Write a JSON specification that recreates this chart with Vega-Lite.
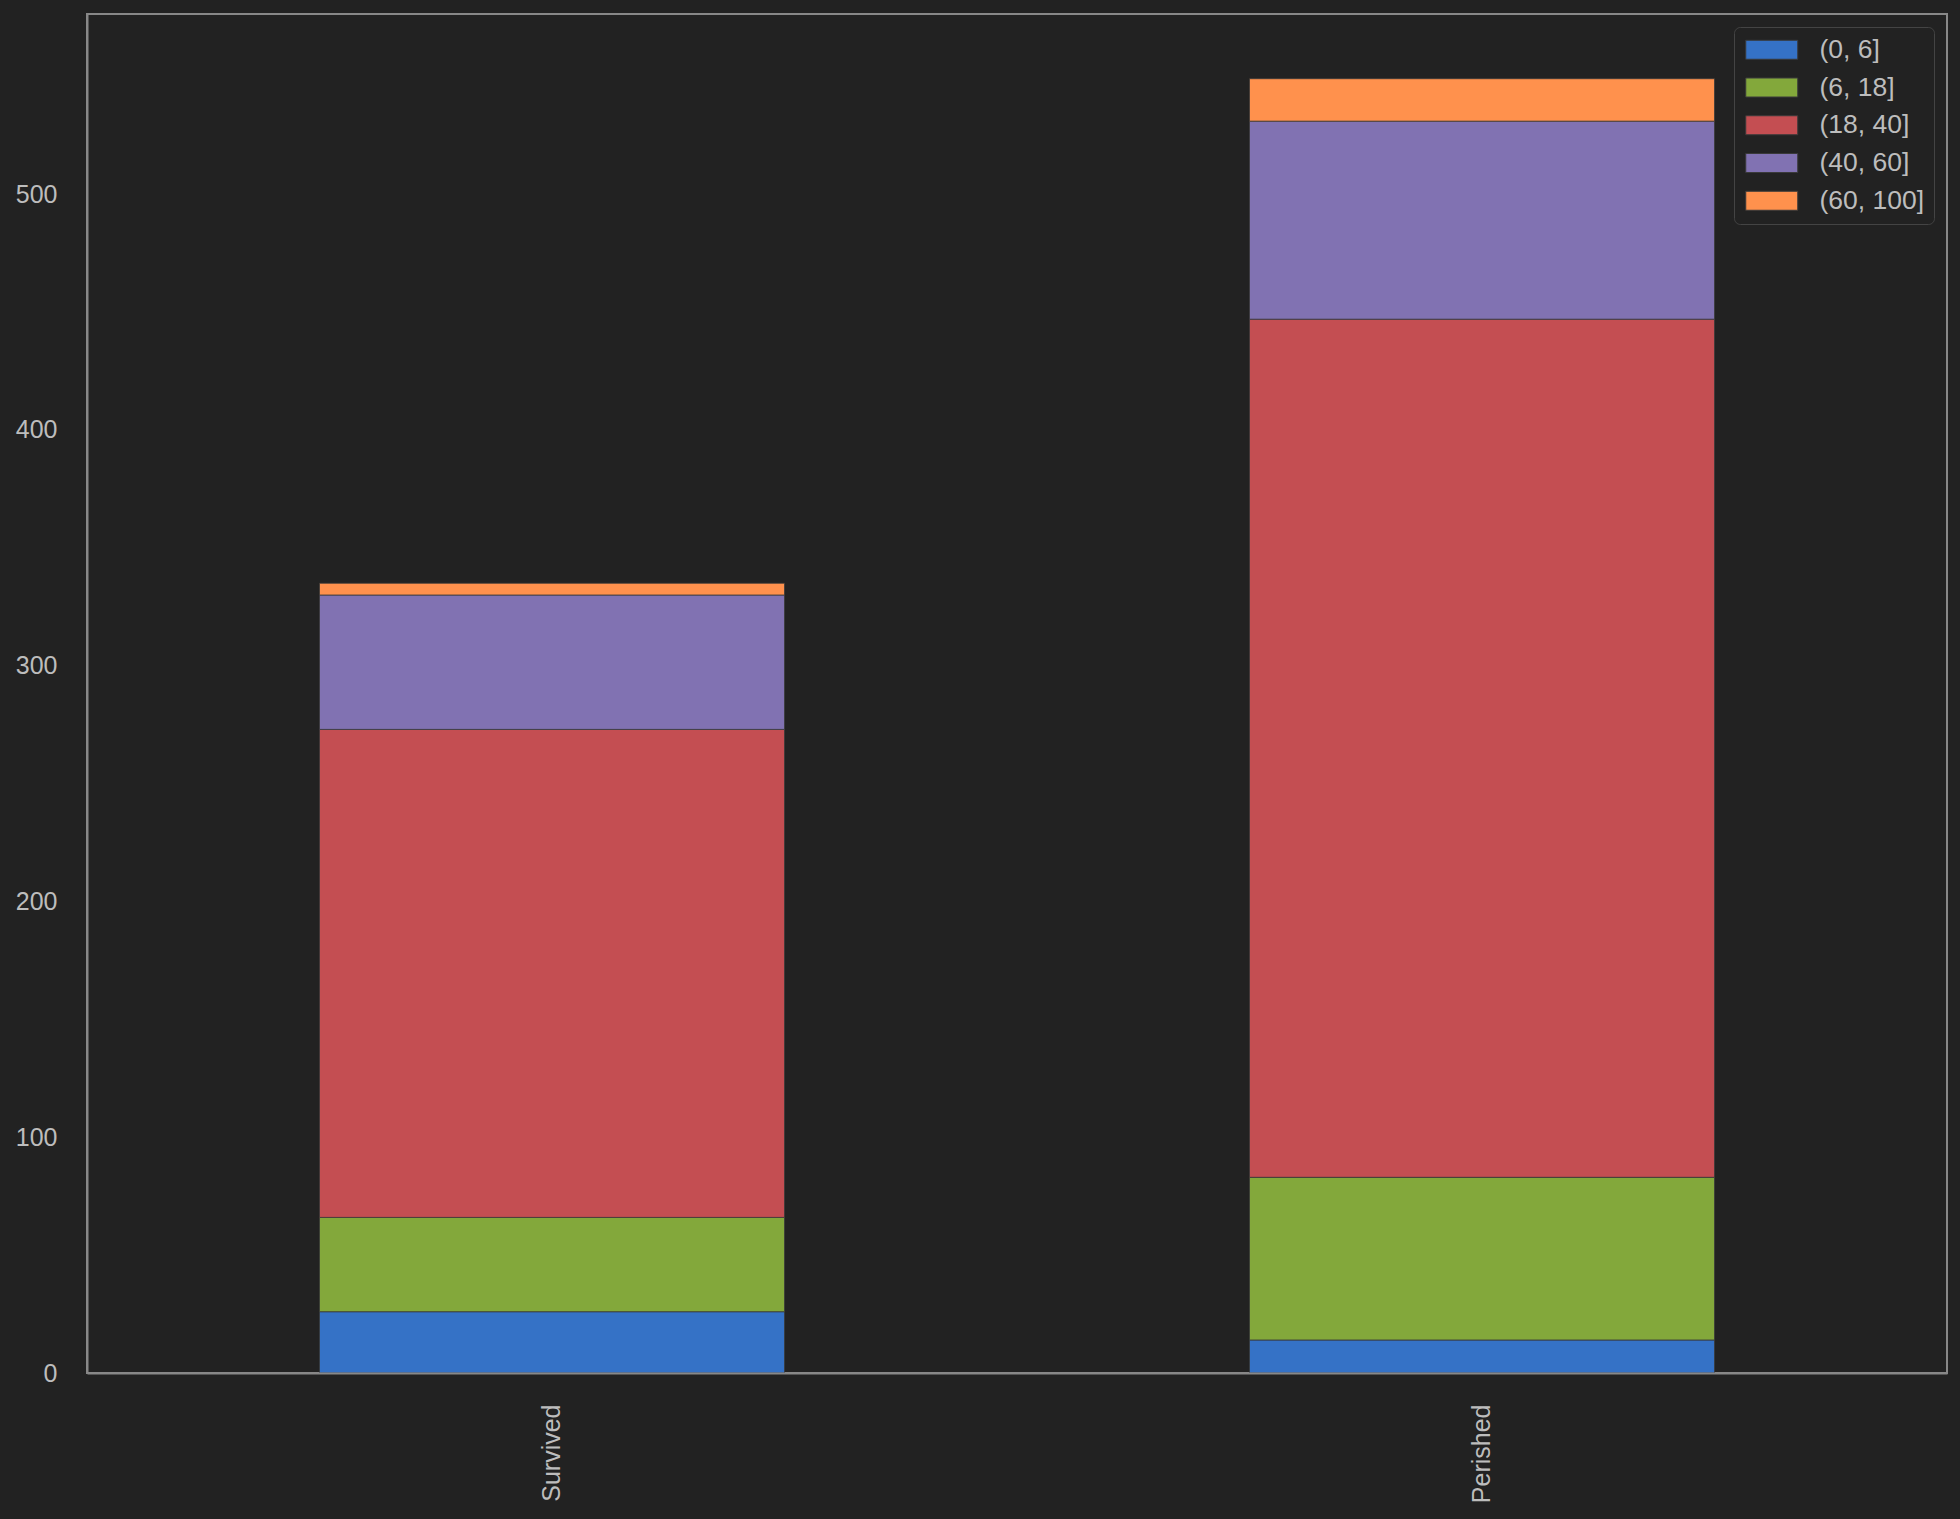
{
  "$schema": "https://vega.github.io/schema/vega-lite/v6.json",
  "width": 1860,
  "height": 1359,
  "autosize": "none",
  "padding": {"left": 87, "top": 14, "right": 13, "bottom": 146},
  "background": "#222222",
  "config": {
    "font": "Liberation Sans",
    "view": {"stroke": "#888888", "strokeWidth": 2}
  },
  "data": {
    "values": [
      {"status": "Survived", "age": "(0, 6]", "idx": 0, "count": 26},
      {"status": "Survived", "age": "(6, 18]", "idx": 1, "count": 40},
      {"status": "Survived", "age": "(18, 40]", "idx": 2, "count": 207},
      {"status": "Survived", "age": "(40, 60]", "idx": 3, "count": 57},
      {"status": "Survived", "age": "(60, 100]", "idx": 4, "count": 5},
      {"status": "Perished", "age": "(0, 6]", "idx": 0, "count": 14},
      {"status": "Perished", "age": "(6, 18]", "idx": 1, "count": 69},
      {"status": "Perished", "age": "(18, 40]", "idx": 2, "count": 364},
      {"status": "Perished", "age": "(40, 60]", "idx": 3, "count": 84},
      {"status": "Perished", "age": "(60, 100]", "idx": 4, "count": 18}
    ]
  },
  "mark": {"type": "bar", "stroke": "#3a3a3a", "strokeWidth": 1, "strokeOpacity": 0.8},
  "encoding": {
    "x": {
      "field": "status",
      "type": "nominal",
      "sort": ["Survived", "Perished"],
      "scale": {"paddingInner": 0.5, "paddingOuter": 0.25},
      "axis": {
        "title": null,
        "labelAngle": 270,
        "labelFontSize": 25,
        "labelColor": "#bdbdbd",
        "ticks": false,
        "labelPadding": 31,
        "domain": true,
        "domainColor": "#888888",
        "domainWidth": 2,
        "zindex": 1
      }
    },
    "y": {
      "field": "count",
      "type": "quantitative",
      "stack": "zero",
      "scale": {"domain": [0, 576.45], "nice": false},
      "axis": {
        "title": null,
        "values": [0, 100, 200, 300, 400, 500],
        "grid": false,
        "ticks": false,
        "labelFontSize": 25,
        "labelColor": "#bdbdbd",
        "labelPadding": 30,
        "domain": true,
        "domainColor": "#888888",
        "domainWidth": 2,
        "zindex": 1
      }
    },
    "color": {
      "field": "age",
      "type": "nominal",
      "scale": {
        "domain": ["(0, 6]", "(6, 18]", "(18, 40]", "(40, 60]", "(60, 100]"],
        "range": ["#3572C6", "#83A83B", "#C44E52", "#8172B2", "#FF914D"]
      },
      "legend": {
        "title": null,
        "orient": "top-right",
        "offset": 13,
        "padding": 9.5,
        "rowPadding": 10.75,
        "symbolSize": 625,
        "symbolType": "M-0.88,-0.76H3.28V0.76H-0.88Z",
        "symbolStrokeWidth": 1,
        "symbolStrokeColor": "#3a3a3a",
        "labelOffset": 49.5,
        "labelFontSize": 26.5,
        "labelColor": "#bdbdbd",
        "strokeColor": "#444444",
        "fillColor": "#222222",
        "cornerRadius": 6
      }
    },
    "order": {"field": "idx", "type": "quantitative"}
  }
}
